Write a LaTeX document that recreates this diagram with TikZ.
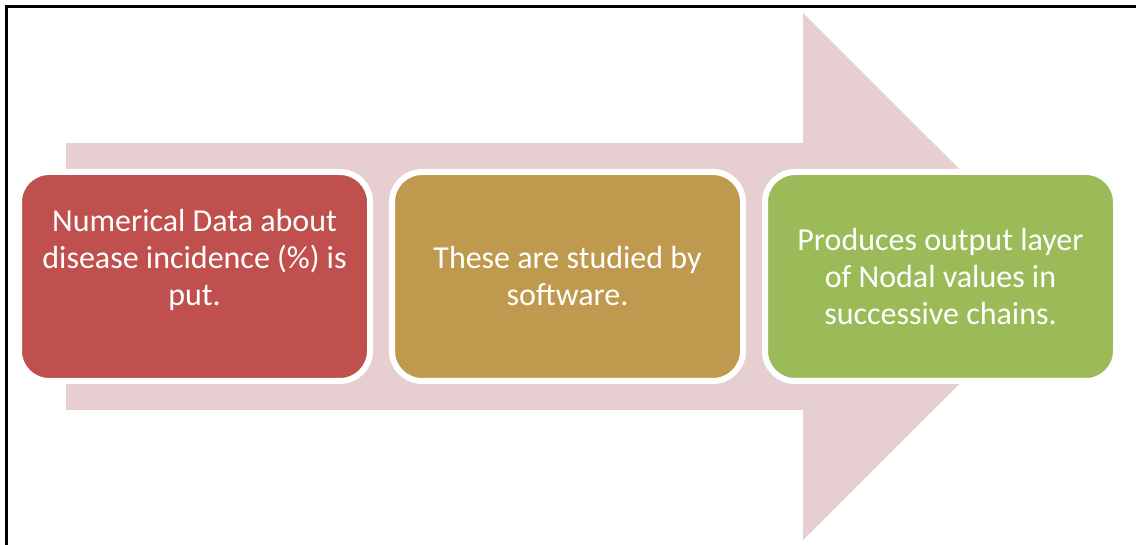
\documentclass[tikz,border=0pt]{standalone}
\usepackage{xcolor}
\usepackage{tikz}
\usepackage{fontspec}
\setmainfont{Carlito}
\usetikzlibrary{positioning}
\definecolor{stepred}{HTML}{C0504D}
\definecolor{stepgold}{HTML}{BF9A4E}
\definecolor{stepgreen}{HTML}{9BBB59}
\definecolor{arrowpink}{HTML}{E6CED1}

\begin{document}
\begin{tikzpicture}[x=1pt, y=-1pt, node distance=22pt,
  stepbox/.style={draw=white, line width=6pt, rounded corners=30pt,
    minimum width=351pt, minimum height=209pt, inner sep=0pt, outer sep=0pt,
    align=center, text=white, font=\fontsize{32}{37}\selectfont}]
  \useasboundingbox (0,0) rectangle (1136,545);

  % Rahmen
  \draw[line width=3pt] (6.5,545) -- (6.5,6.5) -- (1136,6.5);

  % Pfeil im Hintergrund
  \fill[arrowpink] (66,143) -- (803,143) -- (803,13) -- (1067,276.5)
    -- (803,540) -- (803,410) -- (66,410) -- cycle;

  % Schritte
  \node[stepbox, fill=stepred] (input) at (194.5,276.5)
    {Numerical Data about\\disease incidence (\%) is\\put.\\[2pt]~};
  \node[stepbox, fill=stepgold, right=of input] (study)
    {These are studied by\\software.};
  \node[stepbox, fill=stepgreen, right=of study] (output)
    {Produces output layer\\of Nodal values in\\successive chains.};
\end{tikzpicture}
\end{document}
